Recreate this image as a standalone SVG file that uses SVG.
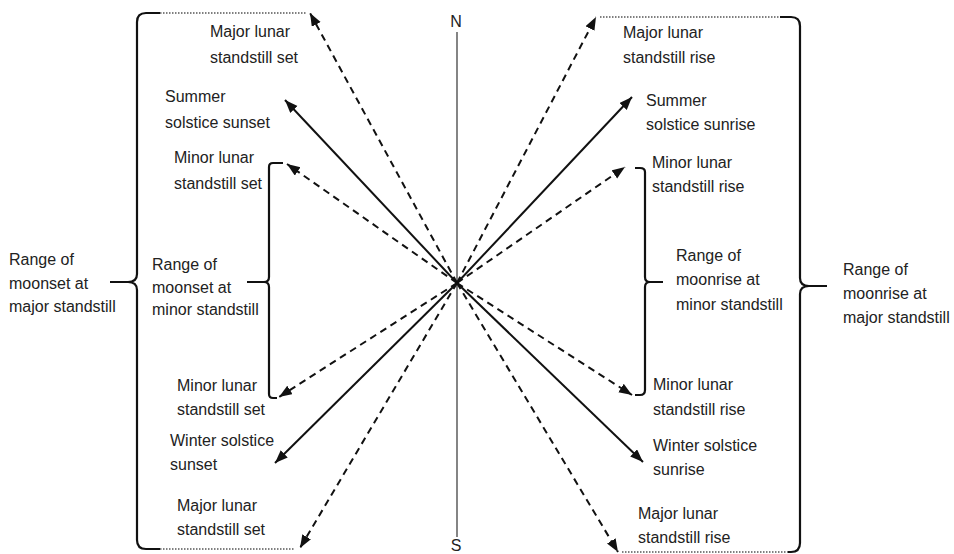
<svg xmlns="http://www.w3.org/2000/svg" width="954" height="554" viewBox="0 0 954 554">
<style>
.t{font-family:"Liberation Sans",Arial,sans-serif;font-size:16px;fill:#222}
.s{stroke:#111;stroke-width:2;fill:none}
.d{stroke:#111;stroke-width:2;fill:none;stroke-dasharray:7 5}
.dot{stroke:#555;stroke-width:1.6;fill:none;stroke-dasharray:1.5 1.5}
.br{stroke:#111;stroke-width:2.2;fill:none}
</style>
<defs>
<marker id="ah" markerUnits="userSpaceOnUse" markerWidth="14" markerHeight="12" refX="13" refY="5" orient="auto">
<path d="M0,0 L13,5 L0,10 z" fill="#111"/>
</marker>
</defs>
<rect width="954" height="554" fill="#fff"/>
<g id="axis">
<line x1="457" y1="32" x2="457" y2="537" stroke="#666" stroke-width="1.6"/>
<text class="t" x="456" y="27" text-anchor="middle" font-size="14">N</text>
<text class="t" x="456" y="551" text-anchor="middle" font-size="14">S</text>
</g>
<g id="connectors">
<line class="d" x1="457" y1="283" x2="310" y2="13" marker-end="url(#ah)"/>
<line class="s" x1="457" y1="283" x2="285" y2="100" marker-end="url(#ah)"/>
<line class="d" x1="457" y1="283" x2="287" y2="164" marker-end="url(#ah)"/>
<line class="d" x1="457" y1="283" x2="279" y2="397" marker-end="url(#ah)"/>
<line class="s" x1="457" y1="283" x2="275" y2="463" marker-end="url(#ah)"/>
<line class="d" x1="457" y1="283" x2="300" y2="548" marker-end="url(#ah)"/>
<line class="d" x1="457" y1="283" x2="596" y2="17" marker-end="url(#ah)"/>
<line class="s" x1="457" y1="283" x2="632" y2="97" marker-end="url(#ah)"/>
<line class="d" x1="457" y1="283" x2="625" y2="167" marker-end="url(#ah)"/>
<line class="d" x1="457" y1="283" x2="632" y2="395" marker-end="url(#ah)"/>
<line class="s" x1="457" y1="283" x2="643" y2="462" marker-end="url(#ah)"/>
<line class="d" x1="457" y1="283" x2="618" y2="552" marker-end="url(#ah)"/>
</g>
<g id="brace-left-major">
<line class="dot" x1="160" y1="13" x2="306" y2="13"/>
<line class="dot" x1="160" y1="549" x2="294" y2="549"/>
<path class="br" d="M160,13 H146 Q137,13 137,22 V274 Q137,282 128,282 H110 M128,282 Q137,282 137,290 V540 Q137,549 146,549 H160"/>
</g>
<g id="brace-left-minor">
<path class="br" d="M283,163 H273 Q269,163 269,167 V277 Q269,282 264,282 H247 M264,282 Q269,282 269,287 V394 Q269,398 273,398 H277"/>
</g>
<g id="brace-right-minor">
<path class="br" d="M635,168 H640 Q645,168 645,172 V277 Q645,282 650,282 H663 M650,282 Q645,282 645,287 V390 Q645,395 640,395 H635"/>
</g>
<g id="brace-right-major">
<line class="dot" x1="600" y1="17" x2="780" y2="17"/>
<line class="dot" x1="622" y1="552" x2="790" y2="552"/>
<path class="br" d="M780,17 H791 Q800,17 800,26 V278 Q800,286 809,286 H827 M809,286 Q800,286 800,294 V543 Q800,552 791,552 H788"/>
</g>
<g id="label-left-major-set-top"><text class="t" x="210" y="37">Major lunar</text><text class="t" x="210" y="63">standstill set</text></g>
<g id="label-summer-sunset"><text class="t" x="165" y="102">Summer</text><text class="t" x="165" y="128">solstice sunset</text></g>
<g id="label-minor-set-top"><text class="t" x="174" y="163">Minor lunar</text><text class="t" x="174" y="189">standstill set</text></g>
<g id="label-range-moonset-minor"><text class="t" x="152" y="270">Range of</text><text class="t" x="152" y="293">moonset at</text><text class="t" x="152" y="315">minor standstill</text></g>
<g id="label-range-moonset-major"><text class="t" x="9" y="265">Range of</text><text class="t" x="9" y="289">moonset at</text><text class="t" x="9" y="312">major standstill</text></g>
<g id="label-minor-set-bottom"><text class="t" x="177" y="391">Minor lunar</text><text class="t" x="177" y="415">standstill set</text></g>
<g id="label-winter-sunset"><text class="t" x="170" y="446">Winter solstice</text><text class="t" x="170" y="470">sunset</text></g>
<g id="label-major-set-bottom"><text class="t" x="177" y="511">Major lunar</text><text class="t" x="177" y="535">standstill set</text></g>
<g id="label-major-rise-top"><text class="t" x="623" y="38">Major lunar</text><text class="t" x="623" y="63">standstill rise</text></g>
<g id="label-summer-sunrise"><text class="t" x="646" y="106">Summer</text><text class="t" x="646" y="130">solstice sunrise</text></g>
<g id="label-minor-rise-top"><text class="t" x="652" y="168">Minor lunar</text><text class="t" x="652" y="192">standstill rise</text></g>
<g id="label-range-moonrise-minor"><text class="t" x="676" y="261">Range of</text><text class="t" x="676" y="285">moonrise at</text><text class="t" x="676" y="310">minor standstill</text></g>
<g id="label-range-moonrise-major"><text class="t" x="843" y="275">Range of</text><text class="t" x="843" y="299">moonrise at</text><text class="t" x="843" y="323">major standstill</text></g>
<g id="label-minor-rise-bottom"><text class="t" x="653" y="390">Minor lunar</text><text class="t" x="653" y="415">standstill rise</text></g>
<g id="label-winter-sunrise"><text class="t" x="653" y="451">Winter solstice</text><text class="t" x="653" y="475">sunrise</text></g>
<g id="label-major-rise-bottom"><text class="t" x="638" y="519">Major lunar</text><text class="t" x="638" y="543">standstill rise</text></g>
</svg>
